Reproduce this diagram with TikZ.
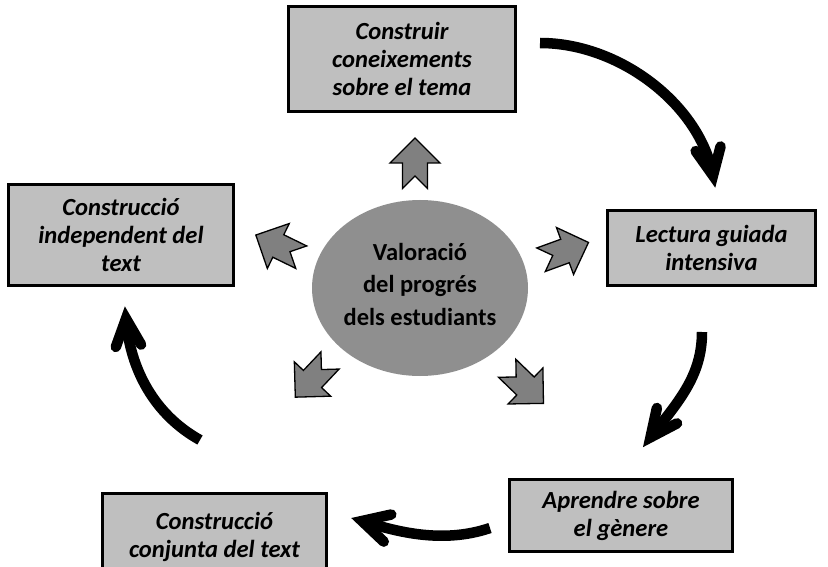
\documentclass[tikz,border=0pt]{standalone}
\usepackage{fontspec}
\setmainfont{Carlito}
\usetikzlibrary{calc,shapes.geometric}
\definecolor{boxgray}{gray}{0.75}
\definecolor{hubgray}{gray}{0.56}
\definecolor{arrowgray}{gray}{0.5}

\begin{document}
\begin{tikzpicture}[x=1pt,y=-1pt,
  stage/.style={draw=black, line width=3pt, fill=boxgray, inner sep=0pt, align=center,
    font=\fontsize{24.6}{28}\selectfont\bfseries\itshape},
  hub/.style={ellipse, fill=hubgray, inner sep=0pt, minimum width=214pt, minimum height=176pt,
    align=center, font=\fontsize{24.5}{32.5}\selectfont\bfseries},
  shaft/.style={line width=10.5pt, line cap=butt},
  barb/.style={line width=10.5pt, line cap=round, line join=miter, miter limit=10},
  pics/notched/.style={code={
    \draw[line width=1.3pt, fill=arrowgray, line join=miter]
      (25,0) -- (0,25) -- (0,12.5) -- (-25.5,12.5) -- (-13,0)
      -- (-25.5,-12.5) -- (0,-12.5) -- (0,-25) -- cycle;}}
]
\useasboundingbox (0,0) rectangle (828,567);

% the five stages of the cycle
\node[stage, minimum width=227pt, minimum height=105pt] (build) at (402,59) {Construir\\coneixements\\sobre el tema};
\node[stage, minimum width=208pt, minimum height=75pt] (read) at (711.5,248) {Lectura guiada\\intensiva};
\node[stage, minimum width=223pt, minimum height=72pt] (genre) at (621,515.5) {Aprendre sobre\\el gènere};
\node[stage, minimum width=224pt, minimum height=88pt] (joint) at (214.5,537) {Construcció\\conjunta del text};
\node[stage, minimum width=225pt, minimum height=101pt] (indep) at (121,235) {Construcció\\independent del\\text};

% assessment at the centre
\node[hub] (assess) at (420,288) {Valoració\\del progrés\\dels estudiants\rule[-8pt]{0pt}{8pt}};

% notched arrows radiating from the centre
\pic[rotate=90] at (415,163) {notched};
\pic[rotate=20] at (565,251) {notched};
\pic[rotate=-44] at (525.5,386) {notched};
\pic[rotate=-133.4] at (312.5,379) {notched};
\pic[rotate=154] at (278.3,246) {notched};

% curved cycle arrows
\coordinate (c1s) at (540,43);
\coordinate (c1t) at (713,175.5);
\draw[shaft] (c1s) .. controls (620,43) and (700,105) .. (c1t);
\draw[barb] ($(c1t)+(79.6+155:30)$) -- (c1t) -- ($(c1t)+(79.6+205:30)$);

\coordinate (c2s) at (702,332);
\coordinate (c2t) at (650.5,437.3);
\draw[shaft] (c2s) .. controls (702,375) and (680,400) .. (c2t);
\draw[barb] ($(c2t)+(127.3+155:30)$) -- (c2t) -- ($(c2t)+(127.3+205:30)$);

\coordinate (c3s) at (490,528);
\coordinate (c3t) at (362,521);
\draw[shaft] (c3s) .. controls (440,545) and (392,530) .. (c3t);
\draw[barb] ($(c3t)+(195.5+152:30)$) -- (c3t) -- ($(c3t)+(195.5+208:30)$);

\coordinate (c4s) at (200,440);
\coordinate (c4t) at (126,318.7);
\draw[shaft] (c4s) .. controls (155,415) and (130,370) .. (c4t);
\draw[barb] ($(c4t)+(264.8+155:30)$) -- (c4t) -- ($(c4t)+(264.8+205:30)$);
\end{tikzpicture}
\end{document}
